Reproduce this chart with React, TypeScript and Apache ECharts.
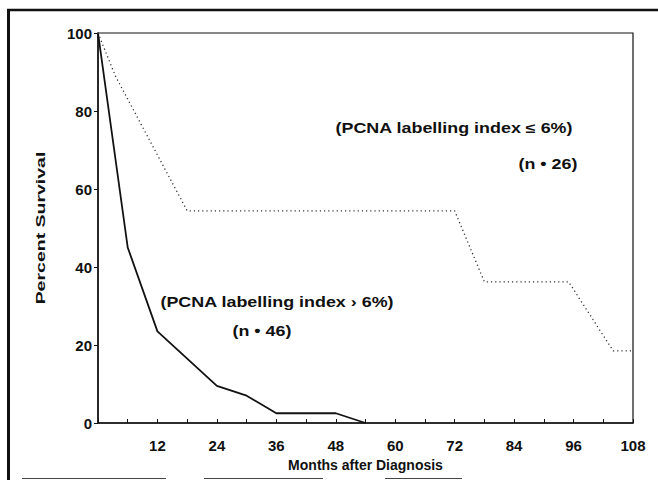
import React, { useEffect, useRef } from "react";
import * as echarts from "echarts";

const highMonths = [0, 6, 12, 24, 30, 36, 48, 54];
const highSurvival = [100, 45, 23.5, 9.5, 7, 2.5, 2.5, 0];
const lowMonths = [0, 3.5, 18, 72, 78, 95, 104, 108];
const lowSurvival = [100, 89, 54.4, 54.4, 36.2, 36.2, 18.5, 18.5];

const xTitle = "Months after Diagnosis";
const yTitle = "Percent Survival";
const lowLabel = "(PCNA labelling index \u2264 6%)";
const lowN = "(n \u2022 26)";
const highLabel = "(PCNA labelling index \u203a 6%)";
const highN = "(n \u2022 46)";

const FONT = '"Liberation Sans", Arial, sans-serif';
const INK = "#111";

export default function App() {
  const ref = useRef<HTMLDivElement>(null);
  useEffect(() => {
    if (!ref.current) return;
    const chart = echarts.init(ref.current, undefined, { renderer: "svg" });
    const annot = (text: string, x: number, y: number) => ({
      type: "text",
      x,
      y,
      scaleX: 1.28,
      style: {
        text,
        font: `bold 14px ${FONT}`,
        fill: INK,
        align: "center",
        verticalAlign: "middle",
      },
    });
    chart.setOption({
      animation: false,
      backgroundColor: "#fff",
      grid: {
        left: 98,
        right: 25,
        top: 33,
        bottom: 57,
        show: true,
        borderColor: INK,
        borderWidth: 1.2,
      },
      xAxis: {
        type: "value",
        min: 0,
        max: 108,
        interval: 6,
        name: xTitle,
        nameLocation: "middle",
        nameGap: 33,
        nameTextStyle: { fontFamily: FONT, fontWeight: "bold", fontSize: 14, color: INK },
        axisLine: { lineStyle: { color: INK, width: 1.5 } },
        axisTick: { inside: true, length: 4, lineStyle: { color: INK, width: 1 } },
        splitLine: { show: false },
        axisLabel: {
          margin: 15,
          fontFamily: FONT,
          fontWeight: "bold",
          fontSize: 15,
          color: INK,
          formatter: (v: number) => (v > 0 && v % 12 === 0 ? String(v) : ""),
        },
      },
      yAxis: {
        type: "value",
        min: 0,
        max: 100,
        interval: 20,
        axisLine: { show: true, lineStyle: { color: INK, width: 1.5 } },
        axisTick: { show: true, inside: false, length: 4, lineStyle: { color: INK, width: 1 } },
        splitLine: { show: false },
        axisLabel: {
          margin: 6,
          fontFamily: FONT,
          fontWeight: "bold",
          fontSize: 15,
          color: INK,
        },
      },
      series: [
        {
          type: "line",
          name: "high",
          data: highMonths.map((m, i) => [m, highSurvival[i]]),
          showSymbol: false,
          symbol: "none",
          lineStyle: { color: INK, width: 1.8, type: "solid" },
        },
        {
          type: "line",
          name: "low",
          data: lowMonths.map((m, i) => [m, lowSurvival[i]]),
          showSymbol: false,
          symbol: "none",
          lineStyle: { color: "#333", width: 1.3, type: [1.2, 3] },
        },
      ],
      graphic: [
        { type: "line", shape: { x1: 7, y1: 10, x2: 658, y2: 10 }, style: { stroke: INK, lineWidth: 2.5 } },
        { type: "line", shape: { x1: 8.5, y1: 9, x2: 8.5, y2: 480 }, style: { stroke: INK, lineWidth: 3 } },
        { type: "line", shape: { x1: 22, y1: 478.5, x2: 166, y2: 478.5 }, style: { stroke: "#444", lineWidth: 1.2 } },
        { type: "line", shape: { x1: 204, y1: 478.5, x2: 323, y2: 478.5 }, style: { stroke: "#444", lineWidth: 1.2 } },
        { type: "line", shape: { x1: 385, y1: 478.5, x2: 462, y2: 478.5 }, style: { stroke: "#444", lineWidth: 1.2 } },
        {
          type: "text",
          x: 41,
          y: 228,
          rotation: Math.PI / 2,
          scaleX: 1.5,
          style: {
            text: yTitle,
            font: `bold 13px ${FONT}`,
            fill: INK,
            align: "center",
            verticalAlign: "middle",
          },
        },
        annot(lowLabel, 454, 128),
        annot(lowN, 548, 164),
        annot(highLabel, 277, 302),
        annot(highN, 262, 331),
      ],
    });
    return () => chart.dispose();
  }, []);
  return (
    <div
      ref={ref}
      style={{ position: "fixed", left: 0, top: 0, width: 658, height: 480 }}
    />
  );
}
